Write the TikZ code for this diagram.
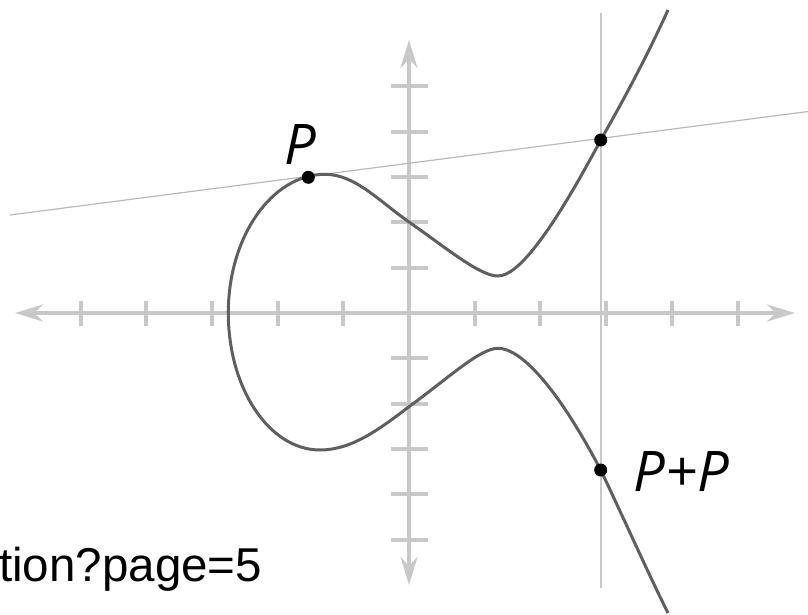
\documentclass[tikz,border=0pt]{standalone}
\usepackage{fontspec}
\usetikzlibrary{arrows.meta}
\newfontfamily\labelfont{Open Sans}
\newfontfamily\urlfont{Liberation Sans}
\definecolor{axisgray}{RGB}{200,200,200}
\definecolor{curvegray}{RGB}{95,95,95}
\definecolor{linegray}{RGB}{185,185,185}

\begin{document}
\begin{tikzpicture}[x=1pt, y=-1pt,
  axis/.style={draw=axisgray, line width=4pt},
  axisarrow/.style={axis, {Stealth[length=28pt, width=17pt, inset=9pt]}-{Stealth[length=28pt, width=17pt, inset=9pt]}},
  axistick/.style={draw=axisgray, line width=4pt},
  curve/.style={draw=curvegray, line width=3pt, line join=round},
  thinline/.style={draw=linegray, line width=1.2pt},
  dot/.style={circle, fill=black, inner sep=0pt, minimum size=13pt},
  lbl/.style={font=\labelfont\itshape\fontsize{56}{60}\selectfont, inner sep=0pt},
  urltext/.style={font=\urlfont\fontsize{47.5}{50}\selectfont, inner sep=0pt},
]
\useasboundingbox (0,0) rectangle (808,615);

% Axes
\coordinate (xl) at (15,313);
\coordinate (xr) at (795,313);
\coordinate (yt) at (409,40);
\coordinate (yb) at (409,585);
\draw[axisarrow] (xl) -- (xr);
\draw[axisarrow] (yt) -- (yb);

% Ticks
\foreach \k in {-5,-4,-3,-2,-1,1,2,3,4,5}
  \draw[axistick] ({409+65.7*\k},301) -- ++(0,25);
\foreach \k in {-5,-4,-3,-2,-1,1,2,3,4,5}
  \draw[axistick] (391,{313+45.3*\k}) -- ++(37,0);

% Tangent line and vertical line
\coordinate (tanL) at (10,215);
\coordinate (tanR) at (808,111.5);
\coordinate (vtop) at (601,13);
\coordinate (vbot) at (601,588);
\draw[thinline] (tanL) -- (tanR);
\draw[thinline, draw=axisgray] (vtop) -- (vbot);

% Curve
\draw[curve] (668,10)
  .. controls (646,58.4) and (622.7,101.5) .. (600.7,140)
  .. controls (555.7,224.5) and (520,276) .. (498,276)
  .. controls (480,276) and (449,250) .. (409,222)
  .. controls (379,201) and (355,174.3) .. (325,174.3)
  .. controls (272,174.3) and (228.3,236.4) .. (228.3,313)
  .. controls (228.3,388.6) and (269.4,450) .. (320,450)
  .. controls (352,450) and (380,428.7) .. (409,406.7)
  .. controls (449,377.5) and (480,348.3) .. (498,348.3)
  .. controls (520,348.3) and (555.7,384.5) .. (600.7,470)
  .. controls (624.7,520.4) and (648,573) .. (668,613);

% Points
\node[dot] (P) at (308.3,177.3) {};
\node[dot] (R) at (600.7,140) {};
\node[dot] (PP) at (600.7,470) {};

% Labels
\node[lbl] (Plbl) at (300,145) {P};
\node[lbl] (PPlbl) at (681,472) {P+P};
\node[urltext, anchor=base west] (url) at (-1,581.7) {tion?page=5};

\end{tikzpicture}
\end{document}
